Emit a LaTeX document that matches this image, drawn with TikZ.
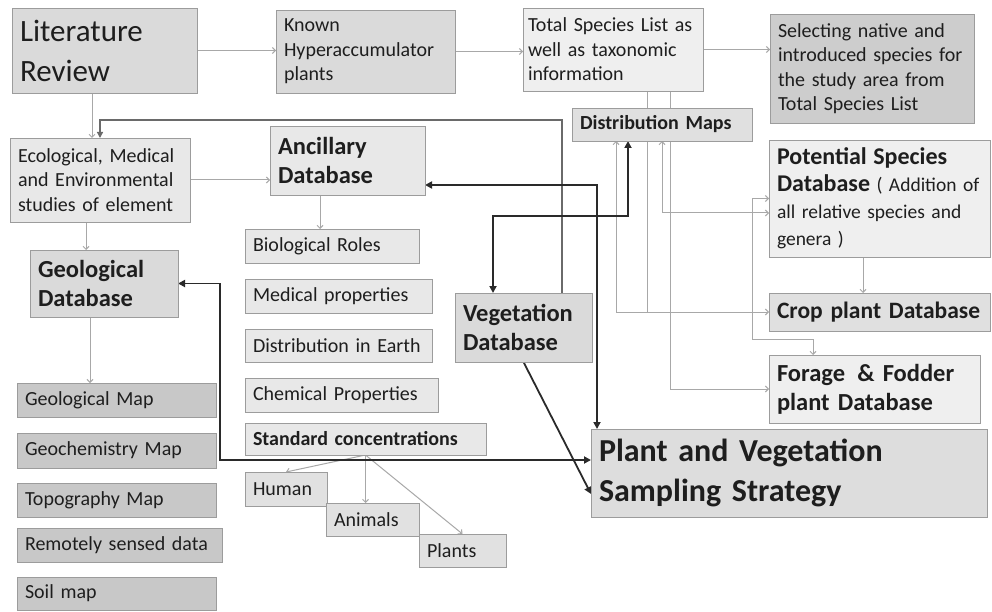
\documentclass[tikz,border=0pt]{standalone}
\usepackage{fontspec}
\setmainfont{Carlito}
\usetikzlibrary{arrows.meta,backgrounds}

\definecolor{edgegray}{HTML}{9C9C9C}
\definecolor{linegray}{HTML}{A8A8A8}
\definecolor{midline}{HTML}{6A6A6A}
\definecolor{darkline}{HTML}{2A2A2A}
\definecolor{inkgray}{HTML}{1E1E1E}
\definecolor{fillmid}{HTML}{DADADA}
\definecolor{filllight}{HTML}{E8E8E8}
\definecolor{fillpale}{HTML}{EFEFEF}
\definecolor{filldark}{HTML}{C8C8C8}

\tikzset{
  box/.style={draw=edgegray, line width=0.8pt, anchor=north west, inner xsep=8pt,
    inner ysep=3pt, outer sep=0pt, align=left, text=inkgray},
  txt/.style={font=\fontsize{20}{24.5}\selectfont},
  hd/.style={font=\bfseries\fontsize{24.5}{29}\selectfont},
  lt/.style={draw=linegray, line width=1pt, >={Straight Barb[length=3pt,width=6pt]}},
  md/.style={draw=midline, line width=1.3pt, >={Triangle[length=6pt,width=6pt]}},
  dk/.style={draw=darkline, line width=1.8pt, >={Triangle[length=7pt,width=7pt]}}
}

\begin{document}
\begin{tikzpicture}[x=1pt,y=1pt,yscale=-1,xscale=1]
\useasboundingbox (0,0) rectangle (992,612);

% top row
\node[box,fill=fillmid,text width=169pt,minimum height=85pt,font=\fontsize{31}{40}\selectfont] (lit) at (12,8) {Literature\\Review};
\node[box,txt,fill=fillmid,text width=163pt,minimum height=83pt] (known) at (276,10) {Known\\Hyperaccumulator\\plants};
\node[box,txt,fill=fillpale,inner xsep=5pt,text width=170pt,minimum height=83pt] (total) at (523,8) {Total Species List as\\well as taxonomic\\information};
\node[box,txt,fill=filldark!70!fillmid,text width=188pt,minimum height=109pt] (select) at (770,14) {Selecting native and\\introduced species for\\the study area from\\Total Species List};
\node[box,fill=fillmid!60!filllight,text width=164pt,minimum height=33pt,font=\bfseries\fontsize{20}{24}\selectfont] (distmap) at (572,108) {Distribution Maps};

% left column
\node[box,txt,fill=filllight,text width=164pt,minimum height=84pt] (eco) at (10,138) {Ecological, Medical\\and Environmental\\studies of element};
\node[box,hd,fill=filllight,text width=139pt,minimum height=69pt] (anc) at (270,126) {Ancillary\\Database};
\node[box,hd,fill=fillmid,text width=132pt,minimum height=67pt] (geodb) at (30,250) {Geological\\Database};

\node[box,txt,fill=filldark,text width=183pt,minimum height=34pt] (geomap) at (17,383) {Geological Map};
\node[box,txt,fill=filldark,text width=183pt,minimum height=35pt] (geochem) at (17,433) {Geochemistry Map};
\node[box,txt,fill=filldark,text width=183pt,minimum height=34pt] (topo) at (17,483) {Topography Map};
\node[box,txt,fill=filldark,text width=189pt,minimum height=34pt] (remote) at (17,528) {Remotely sensed data};
\node[box,txt,fill=filldark,text width=183pt,minimum height=33pt] (soil) at (17,577) {Soil map};

% ancillary items
\node[box,txt,fill=filllight,text width=158pt,minimum height=34pt] (bio) at (245,229) {Biological Roles};
\node[box,txt,fill=filllight,text width=171pt,minimum height=34pt] (med) at (245,279) {Medical properties};
\node[box,txt,fill=filllight,text width=171pt,minimum height=33pt] (disteq) at (245,329) {Distribution in Earth};
\node[box,txt,fill=filllight,text width=177pt,minimum height=34pt] (chem) at (245,378) {Chemical Properties};
\node[box,fill=filllight,text width=225pt,minimum height=32pt,font=\bfseries\fontsize{20}{24}\selectfont] (stdc) at (245,423) {Standard concentrations};
\node[box,txt,fill=fillmid!50!filllight,text width=66pt,minimum height=34pt] (human) at (245,472) {Human};
\node[box,txt,fill=fillmid!50!filllight,text width=77pt,minimum height=33pt] (animals) at (326,503) {Animals};
\node[box,txt,fill=fillmid!50!filllight,text width=71pt,minimum height=33pt] (plants) at (419,534) {Plants};

% right side
\node[box,hd,fill=fillmid,text width=121pt,minimum height=69pt] (veg) at (455,293) {Vegetation\\Database};
\node[box,fill=fillpale,text width=205pt,minimum height=117pt,font=\fontsize{19.5}{27}\selectfont] (pot) at (769,140)
  {{\bfseries\fontsize{24}{27}\selectfont Potential Species}\\{\bfseries\fontsize{24}{27}\selectfont Database} ( Addition of\\all relative species and\\genera )};
\node[box,fill=fillmid!60!filllight,text width=205pt,minimum height=38pt,font=\bfseries\fontsize{23.5}{28}\selectfont] (crop) at (769,293) {Crop plant Database};
\node[box,hd,fill=fillpale,text width=195pt,minimum height=68pt] (forage) at (769,355) {Forage \,\& Fodder\\plant Database};
\node[box,fill=fillmid!80!filllight,text width=380pt,minimum height=88pt,font=\bfseries\fontsize{32}{40}\selectfont] (pvss) at (591,429) {Plant and Vegetation\\Sampling Strategy};

% bends and columns
\coordinate (litcol) at (92,0);
\coordinate (ecocol) at (86,0);
\coordinate (geocol) at (90,0);
\coordinate (anccol) at (320,0);
\coordinate (ecoin) at (100,120);
\coordinate (vegup) at (562,120);
\coordinate (dvleft) at (493,216);
\coordinate (dvright) at (628,216);
\coordinate (ancturn) at (597,185);
\coordinate (geoturn) at (220,460);
\coordinate (cropcol) at (616,0);
\coordinate (totcropcol) at (647,0);
\coordinate (potcol) at (662,213);
\coordinate (fodcol) at (670,0);
\coordinate (fodbend) at (752,339);
\coordinate (fodin) at (813,355);
\coordinate (potcrop) at (863,0);

\begin{pgfonlayer}{background}
\fill[white] (0,0) rectangle (992,612);
% light connectors
\draw[lt,->] (lit.east) -- (lit.east -| known.west);
\draw[lt,->] (known.east) -- (known.east -| total.west);
\draw[lt,->] (total.east) -- (total.east -| select.west);
\draw[lt,->] (lit.south -| litcol) -- (eco.north -| litcol);
\draw[lt,->] (eco.east) -- (eco.east -| anc.west);
\draw[lt,->] (anc.south -| anccol) -- (bio.north -| anccol);
\draw[lt,->] (eco.south -| ecocol) -- (geodb.north -| ecocol);
\draw[lt,->] (geodb.south -| geocol) -- (geomap.north -| geocol);
\draw[lt,->] (stdc.south) -- (human.north);
\draw[lt,->] (stdc.south) -- (stdc.south |- animals.north);
\draw[lt,->] (stdc.south) -- (plants.north);
\draw[lt,<->] (distmap.south -| cropcol) |- (crop.west);
\draw[lt] (total.south -| totcropcol) -- (totcropcol |- crop.west);
\draw[lt,<->] (distmap.south -| potcol) |- (potcol -| pot.west);
\draw[lt,->] (total.south -| fodcol) |- (forage.west);
\draw[lt,<->] (pot.west) -| (fodbend) -| (fodin);
\draw[lt,->] (pot.south -| potcrop) -- (crop.north -| potcrop);
% vegetation back to studies
\draw[md,->] (veg.north -| vegup) -- (vegup) -- (ecoin) -- (eco.north -| ecoin);
% heavy links to sampling strategy
\draw[dk,<->] (geodb.east) -| (geoturn) -- (geoturn -| pvss.west);
\draw[dk,<->] (anc.east |- ancturn) -- (ancturn) -- (ancturn |- pvss.north);
\draw[dk,->] (veg.south) -- ([yshift=21pt]pvss.west);
\draw[dk,<->] (distmap.south -| dvright) -- (dvright) -- (dvleft) -- (veg.north -| dvleft);
\end{pgfonlayer}

\end{tikzpicture}
\end{document}
